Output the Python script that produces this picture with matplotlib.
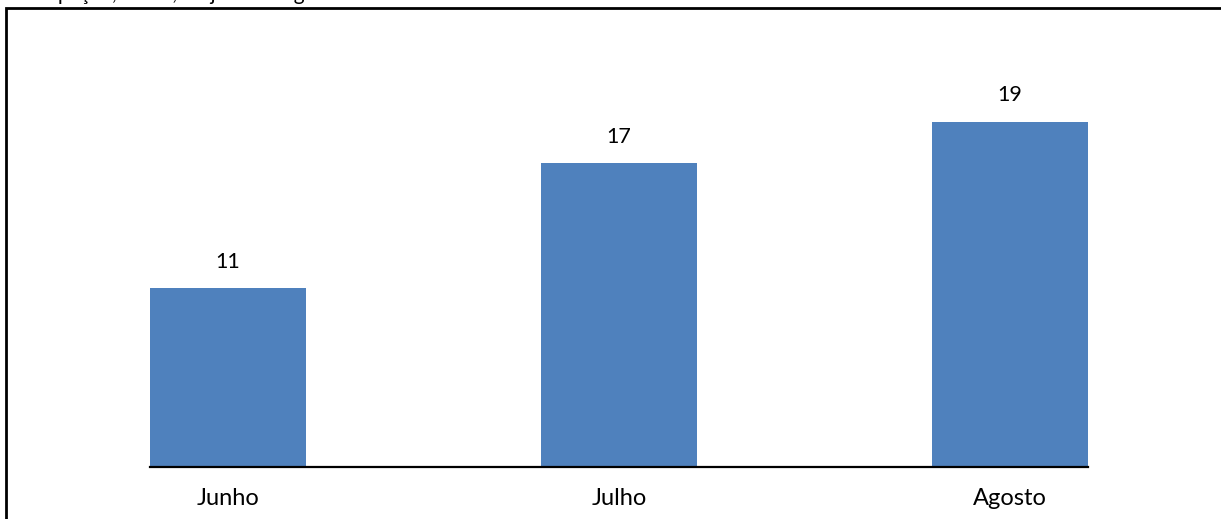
import matplotlib
import matplotlib.pyplot as plt
from matplotlib.patches import Rectangle

matplotlib.pyplot.switch_backend('Agg')
plt.rcParams['font.family'] = ['Lato', 'DejaVu Sans']

meses = ["Junho", "Julho", "Agosto"]
valores = [11, 17, 19]
titulo = "Participação, em %, de junho a agosto de 2016"


def graph_builder(labels, values):
    """Grafico de barras com valores acima de cada barra"""
    fig = plt.figure(figsize=(12.21, 5.19), dpi=100)

    # titulo cortado no topo da imagem
    fig.text(0.0, 1 - 0.3 / 519, titulo, fontsize=15, va='baseline', ha='left', color='black')

    # moldura em volta do grafico
    fig.patches.append(Rectangle((6 / 1221, -0.05), 1.1, 1 - 8 / 519 + 0.05,
                                 transform=fig.transFigure, fill=False,
                                 edgecolor='black', linewidth=2, zorder=0))

    ax = fig.add_axes([150 / 1221, 1 - 467 / 519, 938 / 1221, 416 / 519])
    x = range(len(labels))
    bars = ax.bar(x, values, width=0.4, color='#4F81BD', zorder=2)
    ax.set_xlim(-0.2, 2.2)
    ax.set_ylim(2.4, 22.4)

    for b, v in zip(bars, values):
        ax.annotate(str(v), (b.get_x() + b.get_width() / 2, v), xytext=(0, 19),
                    textcoords='offset points', ha='center', va='center', fontsize=15.5)

    ax.set_xticks(list(x))
    ax.set_xticklabels(labels, fontsize=17)
    ax.tick_params(axis='x', length=0, pad=15)
    ax.set_yticks([])
    for s in ['top', 'left', 'right']:
        ax.spines[s].set_visible(False)
    ax.spines['bottom'].set_linewidth(1.6)
    ax.patch.set_alpha(0)

    plt.savefig('out.png', dpi=100)
    plt.close()


graph_builder(meses, valores)
